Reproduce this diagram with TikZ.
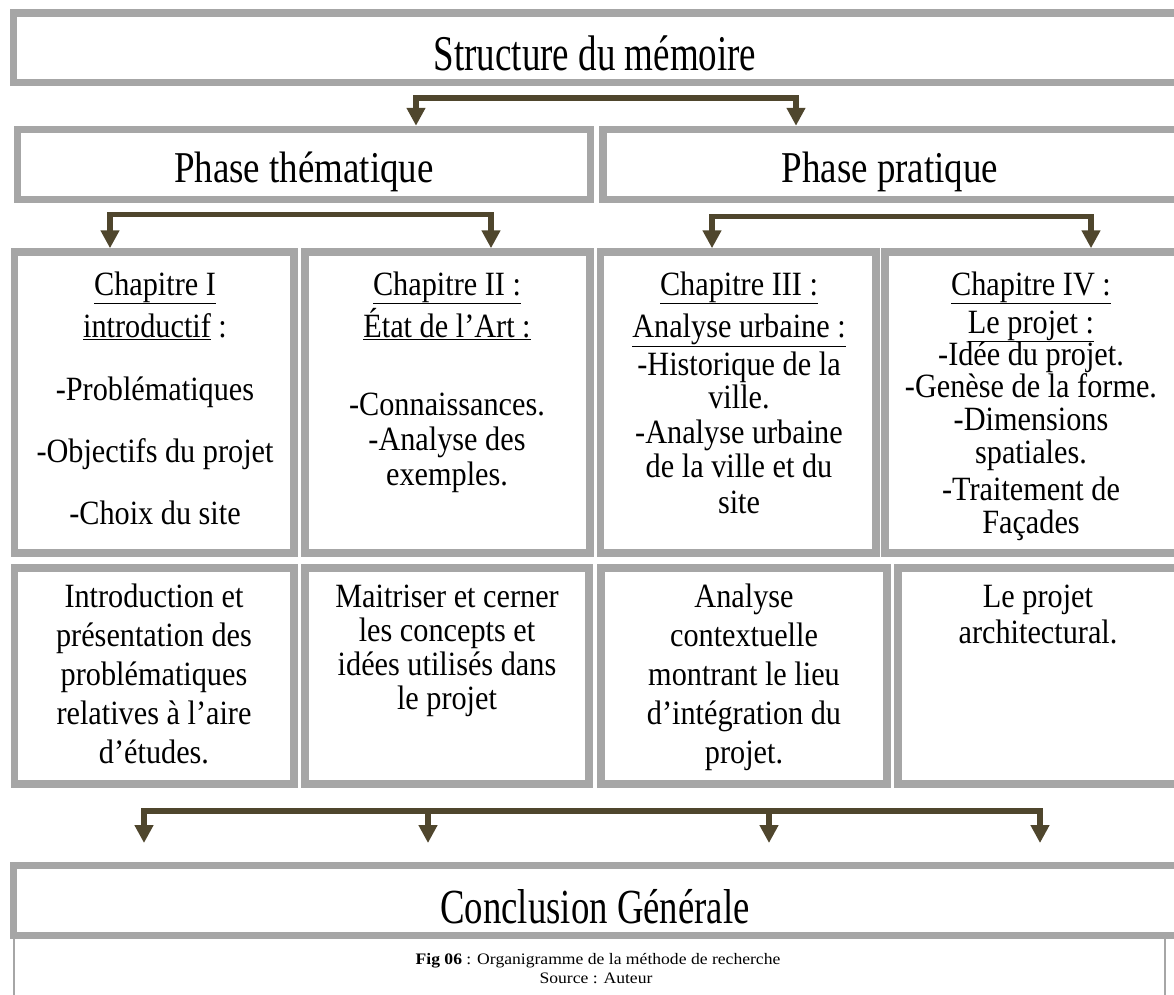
\documentclass[tikz,border=0pt]{standalone}
\usepackage{fontspec}
\setmainfont{Liberation Serif}
\newfontfamily\bodyfont{Liberation Serif}[FakeStretch=0.89]
\usepackage{graphicx}
\usetikzlibrary{arrows.meta, positioning}
\definecolor{boxgray}{RGB}{166,166,166}
\definecolor{arrowbrown}{RGB}{79,70,45}
\newcommand{\squeeze}[3]{\scalebox{#1}[1]{\fontsize{#2}{#2}\selectfont #3}}
\setlength{\lineskiplimit}{-100pt}

\begin{document}
\begin{tikzpicture}[x=1pt, y=-1pt,
        frame/.style={draw=boxgray, line width=7.5pt, inner sep=0pt},
        headtext/.style={inner sep=0pt, anchor=base},
        body/.style={inner sep=0pt, anchor=base, align=center,
            font=\bodyfont\fontsize{34}{34}\selectfont},
        link/.style={draw=arrowbrown, line width=5.5pt},
        >={Triangle[width=18pt, length=18pt]}]
    \useasboundingbox (0,0) rectangle (1174,994);

    % boxes
    \node[frame, minimum width=1165.5pt, minimum height=69.5pt] (struct) at (596.25,47.75) {};
    \node[frame, minimum width=573pt, minimum height=70pt] (phaseT) at (304,164.5) {};
    \node[frame, minimum width=576pt, minimum height=70pt] (phaseP) at (891,164.5) {};
    \node[frame, minimum width=279.5pt, minimum height=301pt] (ch1) at (154.25,402.5) {};
    \node[frame, minimum width=285pt, minimum height=301pt] (ch2) at (447.5,402.5) {};
    \node[frame, minimum width=275.5pt, minimum height=301pt] (ch3) at (738.25,402.5) {};
    \node[frame, minimum width=294pt, minimum height=301pt] (ch4) at (1032,402.5) {};
    \node[frame, minimum width=279.5pt, minimum height=216pt] (res1) at (154.25,676) {};
    \node[frame, minimum width=284pt, minimum height=216pt] (res2) at (447,676) {};
    \node[frame, minimum width=286pt, minimum height=216pt] (res3) at (744,676) {};
    \node[frame, minimum width=281pt, minimum height=216pt] (res4) at (1038.5,676) {};
    \node[frame, minimum width=1165.5pt, minimum height=70pt] (concl) at (596.25,900.5) {};

    % texts (multi-line nodes sit on their last baseline)
    \node[headtext] (structTxt) at (595,70) {\squeeze{0.74}{50}{Structure du mémoire}};
    \node[headtext] (phaseTTxt) at (304,182) {\squeeze{0.84}{44}{Phase thématique}};
    \node[headtext] (phasePTxt) at (890,182) {\squeeze{0.84}{44}{Phase pratique}};
    \node[headtext] (conclTxt) at (595,923) {\squeeze{0.75}{49}{Conclusion Générale}};

    \node[body] (ch1Txt) at (155,524) {\underline{Chapitre I}\\[8pt]
        \underline{introductif} :\\[29pt] -Problématiques\\[28pt]
        -Objectifs du projet\\[28pt] -Choix du site};
    \node[body] (ch2Txt) at (447,485) {\underline{Chapitre II :}\\[8pt]
        \underline{État de l’Art :}\\[44pt] -Connaissances.\\[1pt]
        -Analyse des\\[1pt] exemples.};
    \node[body] (ch3Txt) at (739,513) {\underline{Chapitre III :}\\[8pt]
        \underline{Analyse urbaine :}\\[4pt] -Historique de la\\[-1pt] ville.\\[1pt]
        -Analyse urbaine\\ de la ville et du\\[2pt] site};
    \node[body] (ch4Txt) at (1031,533) {\underline{Chapitre IV :}\\[4pt]
        \underline{Le projet :}\\[-2pt] -Idée du projet.\\[-2pt]
        -Genèse de la forme.\\[-1pt] -Dimensions\\[-1pt] spatiales.\\[3pt]
        -Traitement de\\[-1pt] Façades};

    \node[body] (res1Txt) at (154,763) {Introduction et\\[5pt] présentation des\\[5pt]
        problématiques\\[5pt] relatives à l’aire\\[5pt] d’études.};
    \node[body] (res2Txt) at (447,709) {Maitriser et cerner\\ les concepts et\\
        idées utilisés dans\\ le projet};
    \node[body] (res3Txt) at (744,763) {Analyse\\[5pt] contextuelle\\[5pt]
        montrant le lieu\\[5pt] d’intégration du\\[5pt] projet.};
    \node[body] (res4Txt) at (1038,643) {Le projet\\[2pt] architectural.};

    \node[headtext] (figTxt) at (598,964) {\scalebox{1.1}[1]{\fontsize{16}{16}\selectfont
        \textbf{Fig 06} : Organigramme de la méthode de recherche}};
    \node[headtext] (srcTxt) at (596,983) {\scalebox{1.1}[1]{\fontsize{16}{16}\selectfont
        Source : Auteur}};

    % connectors
    \draw[link, <->] (416,0 |- phaseT.north) -- ++(0,-28) -| (796,0 |- phaseP.north);
    \draw[link, <->] (110,0 |- ch1.north) -- ++(0,-34) -| (491,0 |- ch2.north);
    \draw[link, <->] (712,0 |- ch3.north) -- ++(0,-32) -| (1091,0 |- ch4.north);

    \foreach \name/\xx in {in1/144, in2/428, in3/769, in4/1040}
        \coordinate (\name) at (\xx,843);
    \draw[link, <->] (in1) -- ++(0,-32) -| (in4);
    \draw[link, <-] (in2) -- ++(0,-32);
    \draw[link, <-] (in3) -- ++(0,-32);

    % caption frame
    \draw[boxgray, line width=1.5pt] (14,939) -- (14,996);
    \draw[boxgray, line width=1.5pt] (1165,939) -- (1165,996);
\end{tikzpicture}
\end{document}
